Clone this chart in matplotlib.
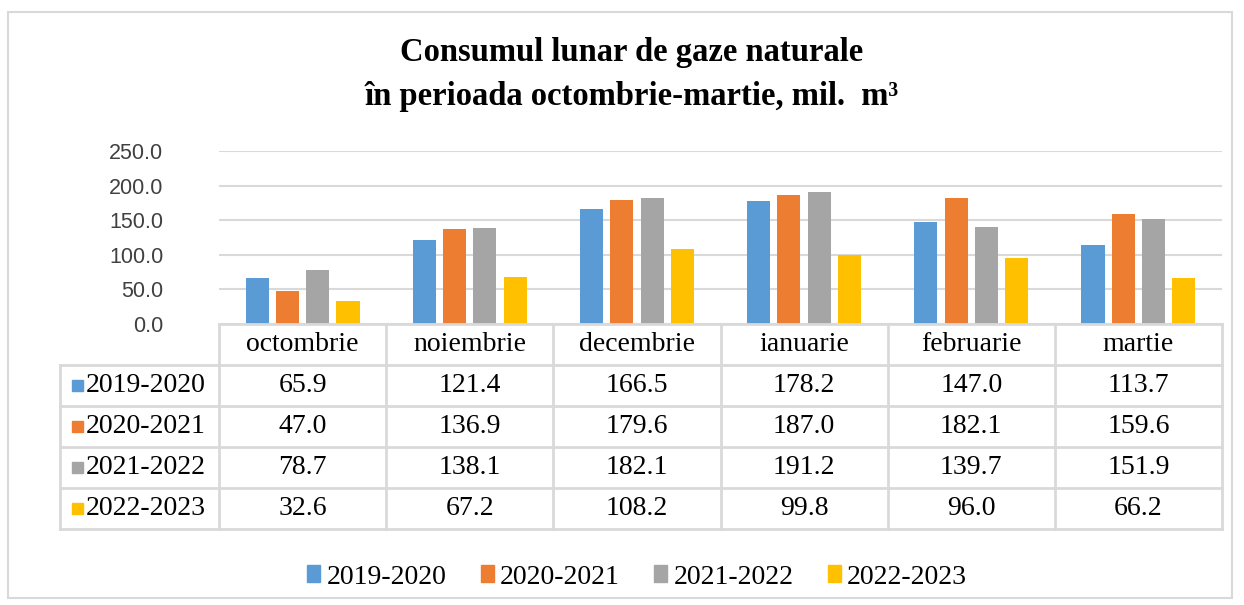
import numpy as np
import matplotlib.pyplot as plt
from matplotlib.patches import Patch, Rectangle

# data
months = ["octombrie", "noiembrie", "decembrie", "ianuarie", "februarie", "martie"]
seasons = ["2019-2020", "2020-2021", "2021-2022", "2022-2023"]
v2019 = [65.9, 121.4, 166.5, 178.2, 147.0, 113.7]
v2020 = [47.0, 136.9, 179.6, 187.0, 182.1, 159.6]
v2021 = [78.7, 138.1, 182.1, 191.2, 139.7, 151.9]
v2022 = [32.6, 67.2, 108.2, 99.8, 96.0, 66.2]
series = [v2019, v2020, v2021, v2022]
colors = ["#5B9BD5", "#ED7D31", "#A5A5A5", "#FFC000"]
yticks = [0, 50, 100, 150, 200, 250]

serif = "Liberation Serif"
sans = "Liberation Sans"
grid_c = "#D9D9D9"

W, H = 1244, 605
fig = plt.figure(figsize=(W / 100, H / 100), dpi=100)

# pixel layout of plot area / table
x0, x1 = 219, 1222
y_top, y_zero = 151, 324
row_h = 41
lab_x0 = 60

ax = fig.add_axes([x0 / W, 1 - y_zero / H, (x1 - x0) / W, (y_zero - y_top) / H])
x = np.arange(len(months))
bw = 0.138
step = 0.181
for i, (vals, c) in enumerate(zip(series, colors)):
    ax.bar(x + (i - 1.5) * step, vals, bw, color=c, zorder=3)
ax.set_xlim(-0.5, len(months) - 0.5)
ax.set_ylim(0, 250)
ax.set_yticks(yticks)
ax.set_yticklabels([f"{t:.1f}" for t in yticks], fontsize=15.5, family=sans, color="#404040")
ax.set_xticks([])
ax.yaxis.grid(True, color=grid_c, lw=1.5, zorder=0)
ax.tick_params(axis="y", length=0, pad=40)
for s in ax.spines.values():
    s.set_visible(False)

# overlay for title and frame in pixel coordinates
ov = fig.add_axes([0, 0, 1, 1], zorder=-1)
ov.set_xlim(0, W)
ov.set_ylim(H, 0)
ov.axis("off")
ov.add_patch(Rectangle((8, 12), 1224, 586, fill=False, ec="#D9D9D9", lw=1.5))

ov.text(632, 53, "Consumul lunar de gaze naturale", ha="center", va="center",
        fontsize=23.5, fontweight="bold", family=serif)
ov.text(632, 97, "în perioada octombrie-martie, mil.  m³", ha="center", va="center",
        fontsize=23.5, fontweight="bold", family=serif)

# data table under the bars
tab = fig.add_axes([0, 0, 1, 1], zorder=2)
tab.set_xlim(0, W)
tab.set_ylim(H, 0)
tab.axis("off")
cw = (x1 - x0) / len(months)
hdr_b = y_zero + 41
bottom = hdr_b + row_h * len(seasons)
lc = dict(color=grid_c, lw=2)
tab.plot([x0, x1], [y_zero, y_zero], **lc)
for j in range(len(months) + 1):
    tab.plot([x0 + j * cw] * 2, [y_zero, bottom], **lc)
tab.plot([lab_x0, lab_x0], [hdr_b, bottom], **lc)
for r in range(len(seasons) + 1):
    tab.plot([lab_x0, x1], [hdr_b + r * row_h] * 2, **lc)
for j, m in enumerate(months):
    tab.text(x0 + (j + 0.5) * cw, (y_zero + hdr_b) / 2, m, ha="center", va="center",
             fontsize=20, family=serif)
for r, (s, vals, c) in enumerate(zip(seasons, series, colors)):
    yc = hdr_b + (r + 0.5) * row_h
    tab.add_patch(Rectangle((72, yc - 6), 11, 11, color=c))
    tab.text(86, yc, s, ha="left", va="center", fontsize=20, family=serif)
    for j, v in enumerate(vals):
        tab.text(x0 + (j + 0.5) * cw, yc, f"{v:.1f}", ha="center", va="center",
                 fontsize=20, family=serif)

handles = [Patch(color=c, label=s) for s, c in zip(seasons, colors)]
fig.legend(handles=handles, loc="center", bbox_to_anchor=(637 / W, 1 - 577 / H), ncol=4,
           frameon=False, prop={"family": serif, "size": 20}, handlelength=0.47,
           handleheight=0.55, handletextpad=0.22, columnspacing=1.24,
           borderpad=0, borderaxespad=0)

fig.savefig("out.png", dpi=100)
